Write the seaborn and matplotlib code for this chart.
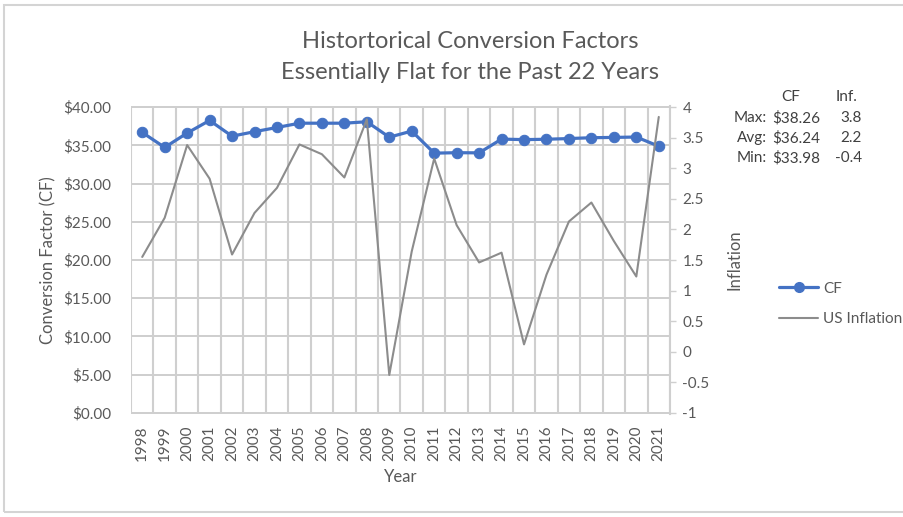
import matplotlib
matplotlib.use("Agg")
import matplotlib.pyplot as plt
from matplotlib.patches import Rectangle
from matplotlib.lines import Line2D
import seaborn as sns
import pandas as pd
import numpy as np

# Medicare physician fee schedule conversion factor and US CPI inflation
years = [str(y) for y in range(1998, 2022)]
cf = [36.69, 34.73, 36.61, 38.26, 36.20, 36.79, 37.34, 37.90, 37.90, 37.90,
      38.09, 36.07, 36.87, 33.98, 34.04, 34.02, 35.82, 35.75, 35.80, 35.89,
      36.00, 36.04, 36.09, 34.89]
inflation = [1.55, 2.19, 3.38, 2.83, 1.59, 2.27, 2.68, 3.39, 3.23, 2.85,
             3.80, -0.38, 1.64, 3.16, 2.07, 1.46, 1.62, 0.12, 1.26, 2.13,
             2.44, 1.81, 1.23, 3.84]

stat_rows = ["Max:", "Avg:", "Min:"]
stat_cf = ["$38.26", "$36.24", "$33.98"]
stat_inf = ["3.8", "2.2", "-0.4"]

df = pd.DataFrame({"idx": np.arange(len(years)), "year": years,
                   "CF": cf, "US Inflation": inflation})

sns.set_theme(style="white")
plt.rcParams["font.family"] = ["Lato", "DejaVu Sans"]

TXT = "#595959"
GRID = "#cfcfcf"
BLUE = "#4472C4"
GRAY = "#8c8c8c"
FS = 11

n = len(years)
dollar_ticks = np.arange(0, 41, 5)

fig = plt.figure(figsize=(9.04, 5.17), dpi=100)
fig.patch.set_facecolor("white")

ax = fig.add_axes([131 / 904, 103 / 517, 539 / 904, 308 / 517])
ax.set_facecolor("white")
ax2 = ax.twinx()

# cell grid: vertical between the years, horizontal bands at the dollar ticks
ax.set_xlim(-0.5, n - 0.5)
ax.set_ylim(0, 40)
ax.set_yticks(dollar_ticks)
ax.set_yticklabels([f"${v:.2f}" for v in dollar_ticks])
ax.set_xticks(np.arange(n))
ax.set_xticklabels(years, rotation=90)
ax.set_xticks(np.arange(-0.5, n, 1), minor=True)
ax.set_axisbelow(True)
ax.grid(True, which="minor", axis="x", color=GRID, linewidth=1.5,
        linestyle="-")
ax.grid(False, which="major", axis="x")
for y in dollar_ticks:
    ax.axhspan(y - 0.14, y + 0.14, facecolor=GRID, edgecolor="none",
               zorder=0.6)

sns.lineplot(data=df, x="idx", y="US Inflation", ax=ax2, color=GRAY,
             linewidth=1.5, legend=False)
sns.lineplot(data=df, x="idx", y="CF", ax=ax, color=BLUE, linewidth=2.3,
             marker="o", markersize=7.5, markeredgecolor=BLUE, legend=False,
             zorder=5)

ax.set_xlim(-0.5, n - 0.5)
ax.set_ylim(-0.15, 40.15)
ax2.set_ylim(-1 - 0.15 / 8, 4 + 0.15 / 8)
r_ticks = np.arange(-1, 4.01, 0.5)
ax2.set_yticks(r_ticks)
ax2.set_yticklabels([f"{v:g}" for v in r_ticks])
ax2.grid(False)

for a in (ax, ax2):
    for s in a.spines.values():
        s.set_visible(False)
ax2.spines["right"].set_visible(True)
ax2.spines["right"].set_color(GRID)
ax2.spines["right"].set_linewidth(1.5)

ax.tick_params(axis="y", colors=TXT, labelsize=FS, length=0, pad=14)
ax.tick_params(axis="x", which="both", colors=TXT, labelsize=FS, length=0,
               pad=8)
ax2.tick_params(axis="y", colors=TXT, labelsize=FS, length=4, width=1,
                color=GRID, pad=5)

ax.set_xlabel("Year", color=TXT, fontsize=12, labelpad=6)
ax.set_ylabel("Conversion Factor (CF)", color=TXT, fontsize=12, labelpad=5)
ax2.set_ylabel("Inflation", color=TXT, fontsize=12, labelpad=12)

fig.text(470 / 904, 1 - 42 / 517, "Histortorical Conversion Factors",
         ha="center", va="center", fontsize=17, color=TXT)
fig.text(470 / 904, 1 - 73 / 517, "Essentially Flat for the Past 22 Years",
         ha="center", va="center", fontsize=17, color=TXT)

# summary statistics block
fig.text(791 / 904, 1 - 97 / 517, "CF", ha="center", va="center",
         fontsize=FS, color="#404040")
fig.text(847 / 904, 1 - 97 / 517, "Inf.", ha="center", va="center",
         fontsize=FS, color="#404040")
for i, (lab, c, f) in enumerate(zip(stat_rows, stat_cf, stat_inf)):
    yy = 1 - (118 + 20 * i) / 517
    fig.text(767 / 904, yy, lab, ha="right", va="center", fontsize=FS,
             color="#404040")
    fig.text(772 / 904, yy, c, ha="left", va="center", fontsize=FS,
             color="#404040")
    fig.text(862 / 904, yy, f, ha="right", va="center", fontsize=FS,
             color="#404040")

handles = [Line2D([], [], color=BLUE, linewidth=2.3, marker="o",
                  markersize=7),
           Line2D([], [], color=GRAY, linewidth=1.5)]
fig.legend(handles, ["CF", "US Inflation"], loc="center left",
           bbox_to_anchor=(765 / 904, 1 - 304 / 517), frameon=False,
           fontsize=FS, labelcolor=TXT, handlelength=2.6,
           labelspacing=1.1, handletextpad=0.3)

# chart-area frame
fig.add_artist(Rectangle((4 / 904, 5 / 517), 1.2, 507 / 517,
                         transform=fig.transFigure, facecolor="none",
                         edgecolor="#d4d4d4", linewidth=1.5, zorder=10))

fig.savefig("out.png", dpi=100, facecolor="white")
